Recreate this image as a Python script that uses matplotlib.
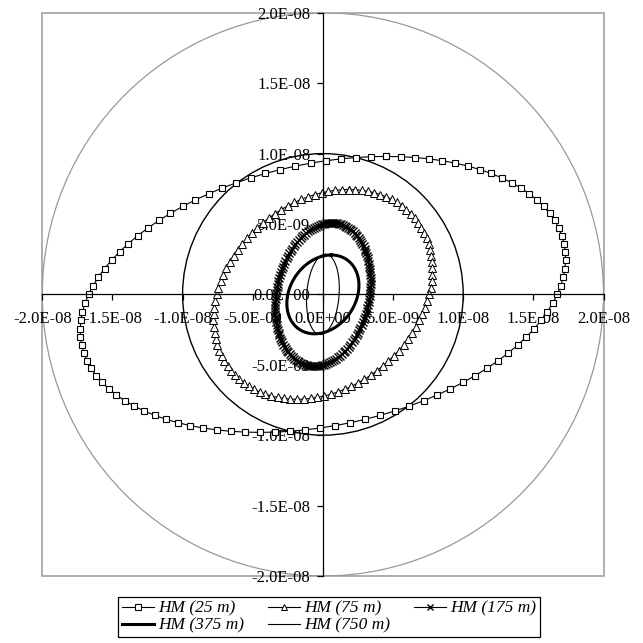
import numpy as np
import matplotlib

matplotlib.use("Agg")
import matplotlib.pyplot as plt
from matplotlib.patches import Ellipse, Rectangle
from matplotlib.ticker import FixedLocator, FuncFormatter

plt.rcParams["font.family"] = ["Liberation Serif", "DejaVu Serif"]

# hodograph traces: x amplitude, y amplitude,
# phase lag of y behind x, number of samples per period
series_names = ["HM (25 m)", "HM (75 m)", "HM (175 m)", "HM (375 m)", "HM (750 m)"]
amp_x = [17.3e-9, 7.8e-9, 3.4e-9, 2.57e-9, 1.17e-9]
amp_y = [9.8e-9, 7.45e-9, 5.1e-9, 2.8e-9, 2.85e-9]
phase_deg = [74.9, 76.3, 79.6, 76.7, 81.0]
n_samples = [100, 100, 150, 100, 100]

# reference circles (radius)
ref_radius = [2.0e-8, 1.0e-8]
ref_color = ["#999999", "black"]

ticks = [-2.0e-8, -1.5e-8, -1.0e-8, -5.0e-9, 0.0, 5.0e-9, 1.0e-8, 1.5e-8, 2.0e-8]

styles = [
    dict(color="black", lw=0.8, marker="s", ms=4.4, mfc="white", mec="black", mew=0.8),
    dict(color="black", lw=0.8, marker="^", ms=5.8, mfc="white", mec="black", mew=0.7),
    dict(color="black", lw=0.8, marker="x", ms=6.3, mec="black", mew=1.0),
    dict(color="black", lw=2.2),
    dict(color="black", lw=0.8),
]

fig = plt.figure(figsize=(6.43, 6.43), dpi=100)
ax = fig.add_axes([42.3 / 643, 1 - 576 / 643, 561.2 / 643, 563.2 / 643])
ax.set_xlim(ticks[0], ticks[-1])
ax.set_ylim(ticks[0], ticks[-1])

for r, c in zip(ref_radius, ref_color):
    ax.add_patch(Ellipse((0, 0), 2 * r, 2 * r, fill=False, edgecolor=c, lw=0.9 if c != "black" else 1.0, zorder=1))

handles = []
for name, axx, ayy, ph, n, st in zip(series_names, amp_x, amp_y, phase_deg, n_samples, styles):
    phi = np.deg2rad(ph)
    t = -phi + 2 * np.pi * np.arange(n + 1) / n
    x = axx * np.cos(t)
    y = ayy * np.cos(t + phi)
    (h,) = ax.plot(x, y, label=name, zorder=2, **st)
    handles.append(h)

# axes crossing at the origin, gray plot-area box
for side in ["top", "right"]:
    ax.spines[side].set_visible(False)
ax.spines["left"].set_position("zero")
ax.spines["bottom"].set_position("zero")
ax.spines["left"].set_linewidth(0.9)
ax.spines["bottom"].set_linewidth(0.9)
ax.add_patch(Rectangle((0, 0), 1, 1, transform=ax.transAxes, fill=False,
                       edgecolor="#999999", lw=1.1, clip_on=False, zorder=0))

fmt = FuncFormatter(lambda v, pos: "%.1E" % v)
ax.xaxis.set_major_locator(FixedLocator(ticks))
ax.yaxis.set_major_locator(FixedLocator(ticks))
ax.xaxis.set_major_formatter(fmt)
ax.yaxis.set_major_formatter(fmt)
ax.tick_params(axis="both", direction="out", length=4, width=0.9, labelsize=12, colors="black")
ax.tick_params(axis="x", pad=8)
ax.tick_params(axis="y", pad=5)

# matplotlib fills legend columns first; reorder so rows read 25/75/175, 375/750
order = [0, 3, 1, 4, 2]
legend_styles = {2: dict(ms=4.5), 1: dict(ms=4.5)}
leg = fig.legend([handles[i] for i in order], [series_names[i] for i in order], ncol=3,
                 loc="upper center", bbox_to_anchor=(329 / 643, 1 - 597 / 643),
                 frameon=True, fancybox=False, edgecolor="black", framealpha=1,
                 prop=dict(style="italic", size=12.5),
                 handlelength=1.85, handletextpad=0.25, columnspacing=1.35,
                 borderpad=0.2, labelspacing=0.05, borderaxespad=0)
leg.get_frame().set_linewidth(0.9)
for line, i in zip(leg.get_lines(), order):
    if i in legend_styles:
        line.set_markersize(legend_styles[i]["ms"])

fig.savefig("out.png", dpi=100)
